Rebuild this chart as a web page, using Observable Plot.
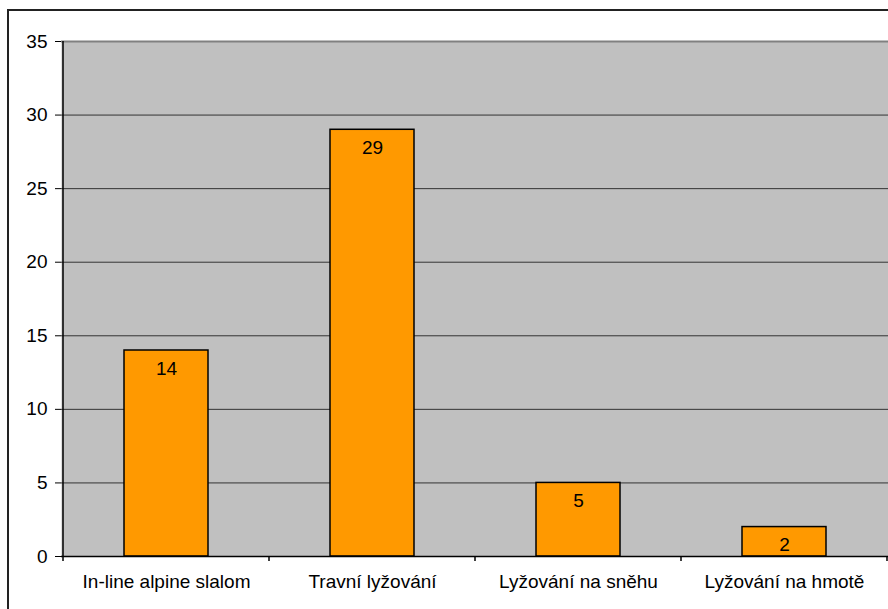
<!DOCTYPE html>
<html>
<head>
<meta charset="utf-8">
<script src="https://cdn.jsdelivr.net/npm/d3@7"></script>
<script src="https://cdn.jsdelivr.net/npm/@observablehq/plot@0.6"></script>
<style>
  html, body { margin: 0; padding: 0; background: #fff; overflow: hidden; }
  #wrap { position: relative; width: 888px; height: 609px; }
  #border { position: absolute; left: 7px; top: 9px; width: 1000px; height: 1000px;
            border-top: 2px solid #222; border-left: 2px solid #222; box-sizing: border-box; }
  #chart { position: absolute; left: 0; top: 0; }
  svg { font-family: "Liberation Sans", Arial, sans-serif; }
</style>
</head>
<body>
<div id="wrap"><div id="border"></div><div id="chart"></div></div>
<script>
// Sports and how many respondents chose each
const categories = ["In-line alpine slalom", "Travní lyžování", "Lyžování na sněhu", "Lyžování na hmotě"];
const counts = [14, 29, 5, 2];
const yTicks = [0, 5, 10, 15, 20, 25, 30, 35];
const gridLines = [5, 10, 15, 20, 25, 30];

const data = categories.map((c, i) => ({category: c, count: counts[i]}));

const plot = Plot.plot({
  width: 888,
  height: 609,
  marginLeft: 61,
  marginRight: 0,
  marginTop: 41,
  marginBottom: 53,
  style: {fontSize: "19px", color: "black", background: "transparent", overflow: "visible"},
  x: {domain: categories, paddingInner: 0.594, paddingOuter: 0.297, label: null},
  y: {domain: [0, 35], ticks: yTicks, label: null},
  marks: [
    Plot.frame({fill: "#c0c0c0", stroke: null}),
    Plot.ruleY(gridLines, {stroke: "#333", strokeWidth: 1}),
    Plot.ruleY([35], {stroke: "#808080", strokeWidth: 2}),
    Plot.barY(data, {x: "category", y: "count", fill: "#ff9900", stroke: "black", strokeWidth: 1.5}),
    Plot.text(data, {x: "category", y: "count", text: d => String(d.count), dy: 18, fill: "black", fontSize: 19}),
    Plot.ruleY([0], {stroke: "black", strokeWidth: 1.5}),
    Plot.axisY({ticks: yTicks, tickSize: 6, tickPadding: 8, fontSize: 19, stroke: "black", label: null}),
    Plot.axisX({tickSize: 0, tickPadding: 18, fontSize: 19, label: null})
  ]
});

// Category boundary ticks and the left axis line, placed from the plot's scales
const xs = plot.scale("x");
const ys = plot.scale("y");
const step = xs.step;
const y0 = ys.apply(0), yTop = ys.apply(35);
const left = xs.apply(categories[0]) - (step - xs.bandwidth) / 2;
const svg = d3.select(plot);
const g = svg.append("g").attr("stroke", "black").attr("stroke-width", 1.5);
g.append("line").attr("x1", left).attr("x2", left).attr("y1", yTop).attr("y2", y0 + 5);
categories.forEach((c, i) => {
  const bx = left + step * (i + 1);
  g.append("line").attr("x1", bx).attr("x2", bx).attr("y1", y0).attr("y2", y0 + 5);
});

document.getElementById("chart").appendChild(plot);
</script>
</body>
</html>
